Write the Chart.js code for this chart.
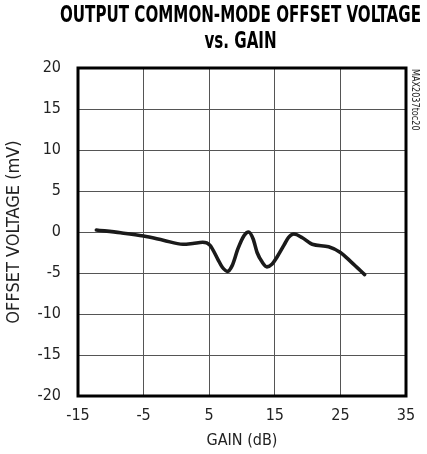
<!DOCTYPE html>
<html><head><meta charset="utf-8">
<script src="https://cdn.jsdelivr.net/npm/chart.js@4.4.1/dist/chart.umd.min.js"></script>
<style>html,body{margin:0;padding:0;background:#fff;}#wrap{width:427px;height:454px;position:relative;}</style>
</head><body><div id="wrap"><canvas id="c" width="427" height="454"></canvas></div>
<script>
const gainDb = [-12.2, -8.5, -5, -2, 1, 2.5, 4, 5.1, 6.3, 7.0, 7.8, 8.5, 9.4, 10.3, 11.0, 11.7, 12.3, 13.1, 13.8, 14.6, 15.3, 16.4, 17.1, 17.9, 19.2, 20.7, 23.2, 25.0, 26.7, 28.7];
const offsetMv = [0.25, -0.1, -0.5, -1.0, -1.5, -1.4, -1.25, -1.6, -3.3, -4.3, -4.8, -4.1, -2.0, -0.45, 0.0, -0.85, -2.5, -3.7, -4.25, -3.9, -3.1, -1.6, -0.65, -0.25, -0.7, -1.5, -1.8, -2.5, -3.7, -5.2];
const xTicks = [-15, -5, 5, 15, 25, 35];
const yTicks = [-20, -15, -10, -5, 0, 5, 10, 15, 20];
const titleLines = ['OUTPUT COMMON-MODE OFFSET VOLTAGE', 'vs. GAIN'];
const xTitle = 'GAIN (dB)';
const yTitle = 'OFFSET VOLTAGE (mV)';
const sideLabel = 'MAX2037toc20';

const FONT = '"DejaVu Sans Condensed", "Liberation Sans", sans-serif';

const overlay = {
  id: 'overlay',
  afterDraw(chart) {
    const ctx = chart.ctx, a = chart.chartArea;
    ctx.save();
    ctx.strokeStyle = '#000';
    ctx.lineWidth = 3;
    ctx.strokeRect(a.left, a.top, a.right - a.left, a.bottom - a.top);
    const cx = 240.5;
    ctx.fillStyle = '#000';
    ctx.textAlign = 'center';
    ctx.textBaseline = 'middle';
    ctx.font = 'bold 23px ' + FONT;
    const w = ctx.measureText(titleLines[0]).width;
    const k = 361 / w;
    ctx.save();
    ctx.translate(cx, 0);
    ctx.scale(k, 1);
    ctx.fillText(titleLines[0], 0, 16);
    ctx.fillText(titleLines[1], 0, 42);
    ctx.restore();
    ctx.translate(a.right + 9, a.top + 1);
    ctx.rotate(Math.PI / 2);
    ctx.font = '10px "DejaVu Sans Condensed", sans-serif';
    ctx.fillStyle = '#222';
    ctx.textAlign = 'left';
    ctx.scale(0.9, 1);
    ctx.fillText(sideLabel, 0, 0);
    ctx.restore();
  }
};

new Chart(document.getElementById('c'), {
  type: 'line',
  data: {
    datasets: [{
      data: gainDb.map((g, i) => ({ x: g, y: offsetMv[i] })),
      borderColor: '#1a1a1a',
      borderWidth: 3.6,
      pointRadius: 0,
      cubicInterpolationMode: 'monotone',
      borderJoinStyle: 'round',
      borderCapStyle: 'round',
      fill: false
    }]
  },
  options: {
    responsive: false,
    animation: false,
    layout: { padding: { top: 68, right: 21, left: 0, bottom: 0 } },
    plugins: { legend: { display: false }, tooltip: { enabled: false } },
    scales: {
      x: {
        type: 'linear', min: -15, max: 35,
        afterBuildTicks: s => { s.ticks = xTicks.map(v => ({ value: v })); },
        afterFit: s => { s.height = 58; },
        grid: { color: '#555', lineWidth: 1, drawTicks: false },
        border: { display: false },
        ticks: { color: '#222', padding: 10, font: { family: FONT, size: 16 }, maxRotation: 0, autoSkip: false },
        title: { display: true, text: xTitle, color: '#222', font: { family: FONT, size: 16 }, padding: { top: 1 } }
      },
      y: {
        type: 'linear', min: -20, max: 20,
        afterBuildTicks: s => { s.ticks = yTicks.map(v => ({ value: v })); },
        afterFit: s => { s.width = 78; },
        grid: { color: '#555', lineWidth: 1, drawTicks: false },
        border: { display: false },
        ticks: { color: '#222', padding: 17, font: { family: FONT, size: 16 } },
        title: { display: true, text: yTitle, color: '#222', font: { family: FONT, size: 18 }, padding: { bottom: 0 } }
      }
    }
  },
  plugins: [overlay]
});
</script></body></html>
